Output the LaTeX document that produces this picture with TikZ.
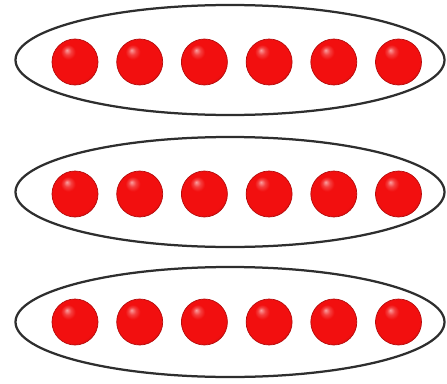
\documentclass[tikz,border=0pt]{standalone}
\usepackage{tikz}
\usetikzlibrary{positioning,shapes.geometric}
\definecolor{RingGray}{HTML}{2E2E2E}
\definecolor{BallRed}{HTML}{F20F0F}
\pgfdeclareradialshading{glossball}{\pgfqpoint{-9bp}{13bp}}{%
  color(0bp)=(BallRed!40!white); color(4bp)=(BallRed!80!white);
  color(8bp)=(BallRed); color(28bp)=(BallRed);
  color(36bp)=(BallRed!80!black); color(50bp)=(BallRed!70!black)}

\begin{document}
\begin{tikzpicture}[node distance=4.5mm,
  ring/.style={ellipse, draw=RingGray, line width=1.6pt, minimum width=10.725cm, minimum height=2.75cm, inner sep=0pt},
  ball/.style={circle, shading=glossball, draw=BallRed!75!black, line width=0.5pt, minimum size=1.15cm, inner sep=0pt}]
\useasboundingbox[fill=white] (0,0) rectangle (11.175,9.575);
\node[ring] (r1) at (5.75,8.075) {};
\node[ring] (r2) at (5.75,4.775) {};
\node[ring] (r3) at (5.75,1.525) {};
% top row
\node[ball] (a1) at ([xshift=-3.875cm,yshift=-0.05cm]r1.center) {};
\node[ball, right=of a1] (a2) {};
\node[ball, right=of a2] (a3) {};
\node[ball, right=of a3] (a4) {};
\node[ball, right=of a4] (a5) {};
\node[ball, right=of a5] (a6) {};
% middle row
\node[ball] (b1) at ([xshift=-3.875cm,yshift=-0.05cm]r2.center) {};
\node[ball, right=of b1] (b2) {};
\node[ball, right=of b2] (b3) {};
\node[ball, right=of b3] (b4) {};
\node[ball, right=of b4] (b5) {};
\node[ball, right=of b5] (b6) {};
% bottom row
\node[ball] (c1) at ([xshift=-3.875cm]r3.center) {};
\node[ball, right=of c1] (c2) {};
\node[ball, right=of c2] (c3) {};
\node[ball, right=of c3] (c4) {};
\node[ball, right=of c4] (c5) {};
\node[ball, right=of c5] (c6) {};
\end{tikzpicture}
\end{document}
